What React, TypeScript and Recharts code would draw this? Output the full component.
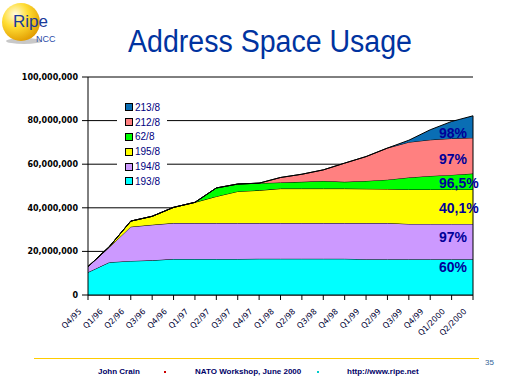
import React from 'react';
import {
  AreaChart,
  Area,
  XAxis,
  YAxis,
  CartesianGrid,
  Legend,
  LabelList,
  ReferenceLine,
} from 'recharts';

// quarterly address usage, in millions of addresses (per /8 block)
const QUARTERS = [
  'Q4/95', 'Q1/96', 'Q2/96', 'Q3/96', 'Q4/96', 'Q1/97', 'Q2/97', 'Q3/97', 'Q4/97', 'Q1/98',
  'Q2/98', 'Q3/98', 'Q4/98', 'Q1/99', 'Q2/99', 'Q3/99', 'Q4/99', 'Q1/2000', 'Q2/2000',
];
const NET_193 = [10.4, 15.0, 15.6, 15.9, 16.5, 16.5, 16.5, 16.5, 16.6, 16.6, 16.6, 16.6, 16.6, 16.4, 16.4, 16.4, 16.4, 16.4, 16.4];
const NET_194 = [2.6, 6.9, 15.7, 16.3, 16.5, 16.5, 16.5, 16.5, 16.4, 16.4, 16.4, 16.4, 16.4, 16.6, 16.6, 16.2, 16.2, 16.2, 16.2];
const NET_195 = [0, 0.3, 2.6, 3.9, 7.2, 9.5, 12.2, 14.5, 15.0, 15.8, 15.8, 15.8, 15.8, 15.7, 15.6, 15.8, 15.8, 15.8, 15.8];
const NET_62 = [0, 0, 0, 0, 0, 0, 3.9, 3.4, 3.3, 2.8, 3.1, 3.5, 3.1, 3.6, 4.3, 5.5, 6.2, 6.7, 7.3];
const NET_212 = [0, 0, 0, 0, 0, 0, 0, 0, 0, 2.3, 3.5, 5.1, 8.6, 11.2, 14.5, 16.2, 16.6, 16.7, 16.4];
const NET_213 = [0, 0, 0, 0, 0, 0, 0, 0, 0, 0, 0, 0, 0, 0, 0, 0.9, 4.6, 7.8, 10.1];

const SERIES_NAMES = ['193/8', '194/8', '195/8', '62/8', '212/8', '213/8'];
const SHARE_LABELS = ['60%', '97%', '40,1%', '96,5%', '97%', '98%'];
const Y_TICKS = [0, 20, 40, 60, 80, 100];

const SERIES_VALUES = [NET_193, NET_194, NET_195, NET_62, NET_212, NET_213];
const KEYS = ['n193', 'n194', 'n195', 'n62', 'n212', 'n213'];
const COLORS = ['#00ffff', '#cc99ff', '#ffff00', '#00ff00', '#ff8080', '#0a6eb4'];
const LABEL_DY = [13, 18, 24, 14, 26, 22];

const data = QUARTERS.map((q, i) => {
  const row: Record<string, any> = { q };
  KEYS.forEach((k, s) => {
    row[k] = SERIES_VALUES[s][i];
  });
  return row;
});

const lastIndex = QUARTERS.length - 1;
const lastTotal = SERIES_VALUES.reduce((sum, arr) => sum + arr[lastIndex], 0);

const formatY = (v: number) => (v === 0 ? '0' : (v * 1e6).toLocaleString('en-US'));

const XTick = ({ x, y, payload }: any) => (
  <text
    transform={`translate(${x - 6},${y + 10}) rotate(-45)`}
    textAnchor="end"
    fontSize={8}
    fontFamily="DejaVu Sans"
    fill="#000033"
  >
    {payload.value}
  </text>
);

const shareLabel = (s: number) => (props: any) => {
  const { x, y, index } = props;
  if (index !== lastIndex) return null;
  return (
    <text
      x={x - 34}
      y={y + LABEL_DY[s]}
      fontSize={14}
      fontWeight="bold"
      fontFamily="Liberation Sans, Arial"
      fill="#000099"
    >
      {SHARE_LABELS[s]}
    </text>
  );
};

const LegendBox = () => (
  <div style={{ background: '#fff', paddingLeft: 8, width: 42 }}>
    {SERIES_NAMES.map((name, s) => ({ name, s }))
      .reverse()
      .map(({ name, s }) => (
        <div
          key={name}
          style={{
            height: 14.8,
            display: 'flex',
            alignItems: 'center',
            fontFamily: 'Liberation Sans, Arial',
            fontSize: 10,
            color: '#000080',
          }}
        >
          <span
            style={{
              width: 6,
              height: 6,
              background: COLORS[s],
              border: '1px solid #000',
              marginRight: 2,
              display: 'inline-block',
            }}
          />
          {name}
        </div>
      ))}
  </div>
);

export default function App() {
  return (
    <div style={{ position: 'absolute', left: 0, top: 0, width: 512, height: 384, background: '#fff' }}>
      <AreaChart
        width={512}
        height={384}
        data={data}
        margin={{ top: 77, right: 39, bottom: 39, left: 8 }}
      >
        <CartesianGrid vertical={false} stroke="#000" strokeWidth={1} />
        <XAxis
          dataKey="q"
          height={50}
          interval={0}
          tick={<XTick />}
          tickSize={5}
          tickMargin={2}
          stroke="#000"
          tickLine={{ stroke: '#000' }}
        />
        <YAxis
          width={80}
          domain={[0, 100]}
          ticks={Y_TICKS}
          tickFormatter={formatY}
          tickSize={6}
          tickMargin={4}
          stroke="#000"
          tick={{ fontSize: 8, fontFamily: 'DejaVu Sans', fontWeight: 'bold', fill: '#000' }}
        />
        <Legend
          content={<LegendBox />}
          layout="horizontal"
          verticalAlign="middle"
          align="center"
          wrapperStyle={{ left: 117, top: 100, width: 50, height: 90 }}
        />
        {KEYS.map((k, s) => (
          <Area
            key={k}
            type="linear"
            dataKey={k}
            name={SERIES_NAMES[s]}
            stackId="1"
            stroke="#000"
            strokeWidth={1}
            fill={COLORS[s]}
            fillOpacity={1}
            isAnimationActive={false}
          >
            <LabelList dataKey={k} content={shareLabel(s)} />
          </Area>
        ))}
        <ReferenceLine
          segment={[
            { x: QUARTERS[lastIndex], y: 0 },
            { x: QUARTERS[lastIndex], y: lastTotal },
          ]}
          stroke="#000"
          ifOverflow="visible"
        />
      </AreaChart>

      <svg
        width={512}
        height={384}
        style={{ position: 'absolute', left: 0, top: 0, pointerEvents: 'none' }}
      >
        <defs>
          <radialGradient id="ball" cx="35%" cy="30%" r="75%">
            <stop offset="0%" stopColor="#fffbe0" />
            <stop offset="45%" stopColor="#ffdd33" />
            <stop offset="100%" stopColor="#e09a00" />
          </radialGradient>
        </defs>
        <ellipse cx={24} cy={41} rx={18} ry={3} fill="#c8c8c8" />
        <circle cx={21} cy={22} r={19} fill="url(#ball)" />
        <text x={13} y={27} fontSize={17} fontFamily="Liberation Sans, Arial" fill="#1a3a9a">
          Ripe
        </text>
        <text x={36} y={42} fontSize={9} fontFamily="Liberation Sans, Arial" fill="#2a4aa8">
          NCC
        </text>

        <text
          x={270}
          y={52}
          textAnchor="middle"
          fontSize={31}
          fontFamily="Liberation Sans, Arial"
          fill="#0033a0"
          textLength={284}
          lengthAdjust="spacingAndGlyphs"
        >
          Address Space Usage
        </text>

        <line x1={34} y1={358.5} x2={479} y2={358.5} stroke="#ffcc00" strokeWidth={1} />
        <text x={485} y={365} fontSize={8} fontFamily="Liberation Sans, Arial" fill="#336699">
          35
        </text>
        <g fontSize={8} fontWeight="bold" fontFamily="Liberation Sans, Arial" fill="#000066">
          <text x={98} y={374}>John Crain</text>
          <text x={195} y={374}>NATO Workshop, June 2000</text>
          <text x={347} y={374}>http://www.ripe.net</text>
        </g>
        <rect x={164} y={371} width={2} height={2} fill="#cc0000" />
        <rect x={317} y={371} width={2} height={2} fill="#00cccc" />
      </svg>
    </div>
  );
}
